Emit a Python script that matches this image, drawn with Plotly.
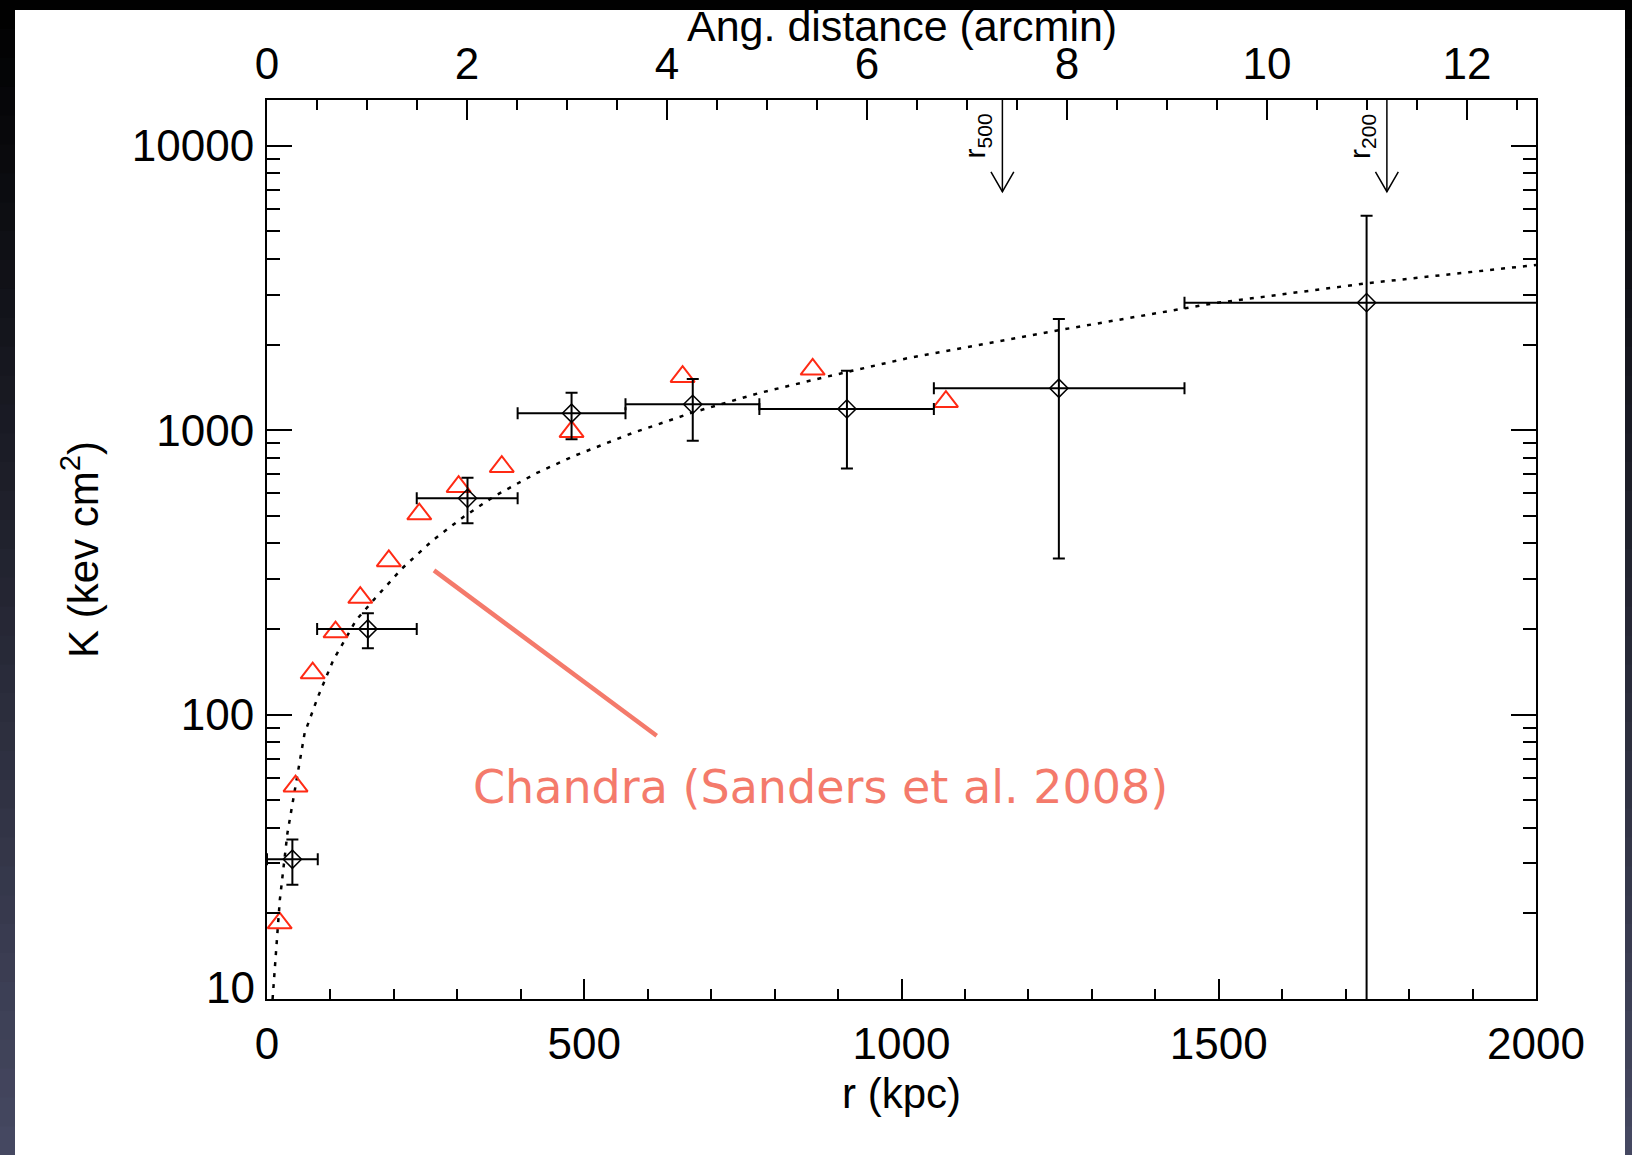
import plotly.graph_objects as go

# ---------------- data ----------------
# deprojected entropy points (r in kpc, K in keV cm^2)
r_kpc = [40, 159, 316, 480, 671, 914, 1248, 1733]
r_lo = [0, 79, 236, 395, 565, 776, 1051, 1446]
r_hi = [80, 236, 395, 565, 776, 1051, 1446, 2020]
K = [31, 200, 576, 1147, 1233, 1188, 1404, 2808]
K_lo = [25.2, 171, 471, 929, 918, 734, 354, 1]
K_hi = [36.4, 227, 680, 1355, 1514, 1619, 2460, 5679]

# Chandra profile (Sanders et al. 2008)
chandra_r = [20, 45, 72, 108, 147, 192, 240, 302, 370, 480, 655, 860, 1070]
chandra_K = [18.5, 56, 140, 195, 258, 347, 507, 633, 744, 988, 1542, 1637, 1260]

# best-fit entropy model
model_r = [8.8, 12.9, 20.2, 32.2, 41.1, 59.3, 80.4, 104.5, 140.7, 170.8, 213.1, 261.3,
           309.5, 357.8, 424.3, 484.5, 574.9, 671.4, 774, 876.6, 1007.2, 1249.8, 1492.3,
           1733, 2000]
model_K = [10, 13.0, 22.3, 38.3, 50.1, 86.1, 115.6, 155.6, 215.1, 257, 326.9, 410.1,
           495.2, 585.1, 705.6, 812.8, 975.2, 1155, 1348, 1532, 1787, 2251, 2794, 3285, 3810]

# characteristic radii (kpc)
r500 = 1159
r200 = 1765

x_ticks = [0, 500, 1000, 1500, 2000]
arcmin_ticks = [0, 2, 4, 6, 8, 10, 12]
y_ticks = [10, 100, 1000, 10000]
y_tick_text = ["10", "100", "1000", "10000"]

X_RANGE = [0, 2000]
ARCMIN_RANGE = [0, 12.69]
Y_LOG_RANGE = [1.0, 4.161]

# ---------------- geometry ----------------
W, H = 1632, 1155
ML, MR, MT, MB = 267, 96, 100, 156
PW = W - ML - MR
PH = H - MT - MB


def px(xpix):
    return (xpix - ML) / PW


def py(ypix):
    return (H - MB - ypix) / PH


AXIS_FONT = "Liberation Sans, Arial, sans-serif"
TICK_SIZE = 44
SALMON = "#F47A6B"
RED = "#FF2A14"

fig = go.Figure()

# model curve
fig.add_trace(go.Scatter(
    x=model_r, y=model_K, mode="lines",
    line=dict(color="black", width=2.5, dash="4px,7px"),
    hoverinfo="skip", showlegend=False))

# Chandra triangles
fig.add_trace(go.Scatter(
    x=chandra_r, y=chandra_K, mode="markers",
    marker=dict(symbol="triangle-up-open", size=21, color=RED,
                line=dict(color=RED, width=2)),
    showlegend=False))

# data points with error bars
fig.add_trace(go.Scatter(
    x=r_kpc, y=K, mode="markers",
    marker=dict(symbol="diamond-open", size=14, color="black",
                line=dict(color="black", width=1.5)),
    error_x=dict(type="data", symmetric=False,
                 array=[h - c for h, c in zip(r_hi, r_kpc)],
                 arrayminus=[c - l for l, c in zip(r_lo, r_kpc)],
                 color="black", thickness=2, width=6),
    error_y=dict(type="data", symmetric=False,
                 array=[h - c for h, c in zip(K_hi, K)],
                 arrayminus=[c - l for l, c in zip(K_lo, K)],
                 color="black", thickness=2, width=6),
    showlegend=False))

# r500 / r200 arrows hanging from the top axis
K_top = 10 ** Y_LOG_RANGE[1]
K_tip = 6897
K_head = 8091
head_dx = 18
ax_x, ax_y = [], []
for rc in (r500, r200):
    ax_x += [rc, rc, None, rc - head_dx, rc, rc + head_dx, None]
    ax_y += [K_top, K_tip, None, K_head, K_tip, K_head, None]
fig.add_trace(go.Scatter(
    x=ax_x, y=ax_y, mode="lines",
    line=dict(color="black", width=1.5),
    hoverinfo="skip", showlegend=False, cliponaxis=False))

# keeps the angular-distance axis active
fig.add_trace(go.Scatter(x=[], y=[], xaxis="x2", showlegend=False))

# ---------------- background ----------------
shapes = []
n_bands = 40
top_c = (0, 0, 0)
bot_c = (70, 73, 98)
for i in range(n_bands):
    t = (i + 0.5) / n_bands
    c = tuple(int(round(a + (b - a) * t)) for a, b in zip(top_c, bot_c))
    y0 = H * i / n_bands
    y1 = H * (i + 1) / n_bands + 1
    shapes.append(dict(type="rect", xref="paper", yref="paper",
                       x0=px(0), x1=px(W), y0=py(y1), y1=py(y0),
                       fillcolor="rgb(%d,%d,%d)" % c, line=dict(width=0),
                       layer="below"))
shapes.append(dict(type="rect", xref="paper", yref="paper",
                   x0=px(15), x1=px(1625), y0=py(H + 2), y1=py(10),
                   fillcolor="white", line=dict(width=0), layer="below"))

# pointer line for the Chandra label
shapes.append(dict(type="line", xref="paper", yref="paper",
                   x0=px(434), y0=py(570.4), x1=px(656.7), y1=py(735.8),
                   line=dict(color=SALMON, width=4.5)))

# ---------------- annotations ----------------
annotations = [
    dict(text="Chandra (Sanders et al. 2008)", xref="paper", yref="paper",
         x=px(471), y=py(787), xanchor="left", yanchor="middle", showarrow=False,
         font=dict(family="DejaVu Sans, sans-serif", size=46, color=SALMON)),
    dict(text="r (kpc)", xref="paper", yref="paper", x=px(901), y=py(1093),
         xanchor="center", yanchor="middle", showarrow=False,
         font=dict(family=AXIS_FONT, size=42, color="black")),
    dict(text="K (kev cm<sup>2</sup>)", xref="paper", yref="paper", x=px(80), y=py(550),
         xanchor="center", yanchor="middle", textangle=-90, showarrow=False,
         font=dict(family=AXIS_FONT, size=42, color="black")),
    dict(text="Ang. distance (arcmin)", xref="paper", yref="paper", x=px(902), y=py(26),
         xanchor="center", yanchor="middle", showarrow=False,
         font=dict(family=AXIS_FONT, size=43, color="black")),
    # lowest y label sits just above the bottom axis line
    dict(text=y_tick_text[0], xref="paper", yref="y", x=0, y=1.0,
         xanchor="right", yanchor="middle", xshift=-10, yshift=12, showarrow=False,
         font=dict(family=AXIS_FONT, size=TICK_SIZE, color="black")),
]
for rc, lab in ((r500, "500"), (r200, "200")):
    annotations.append(dict(
        text="r<sub>%s</sub>" % lab, xref="x", yref="paper", x=rc, y=py(136),
        xshift=-25, xanchor="center", yanchor="middle", textangle=-90,
        showarrow=False, font=dict(family=AXIS_FONT, size=30, color="black")))

minor_y = [m * 10 ** e for e in range(1, 5) for m in range(2, 10)]

axis_common = dict(showgrid=False, zeroline=False, showline=True, linecolor="black",
                   linewidth=2, ticks="inside", tickcolor="black", tickwidth=2,
                   tickfont=dict(family=AXIS_FONT, size=TICK_SIZE, color="black"))

fig.update_layout(
    width=W, height=H,
    margin=dict(l=ML, r=MR, t=MT, b=MB, autoexpand=False),
    paper_bgcolor="black", plot_bgcolor="white",
    font=dict(family=AXIS_FONT, color="black"),
    shapes=shapes, annotations=annotations, showlegend=False,
    xaxis=dict(range=X_RANGE, tickmode="array", tickvals=x_ticks,
               ticktext=[str(v) for v in x_ticks], ticklen=20, ticklabelstandoff=5,
               minor=dict(dtick=100, ticks="inside", ticklen=10, tickwidth=2,
                          tickcolor="black"),
               **axis_common),
    xaxis2=dict(range=ARCMIN_RANGE, overlaying="x", side="top", anchor="y",
                tickmode="array", tickvals=arcmin_ticks,
                ticktext=[str(v) for v in arcmin_ticks], ticklen=20,
                ticklabelstandoff=1,
                minor=dict(dtick=0.5, ticks="inside", ticklen=10, tickwidth=2,
                           tickcolor="black"),
                **axis_common),
    yaxis=dict(type="log", range=Y_LOG_RANGE, tickmode="array", tickvals=y_ticks,
               ticktext=[""] + y_tick_text[1:], ticklen=25, mirror="ticks",
               ticklabelstandoff=2,
               minor=dict(tickvals=minor_y, ticks="inside", ticklen=13, tickwidth=2,
                          tickcolor="black"),
               **axis_common),
)

fig.write_html("out.html")
